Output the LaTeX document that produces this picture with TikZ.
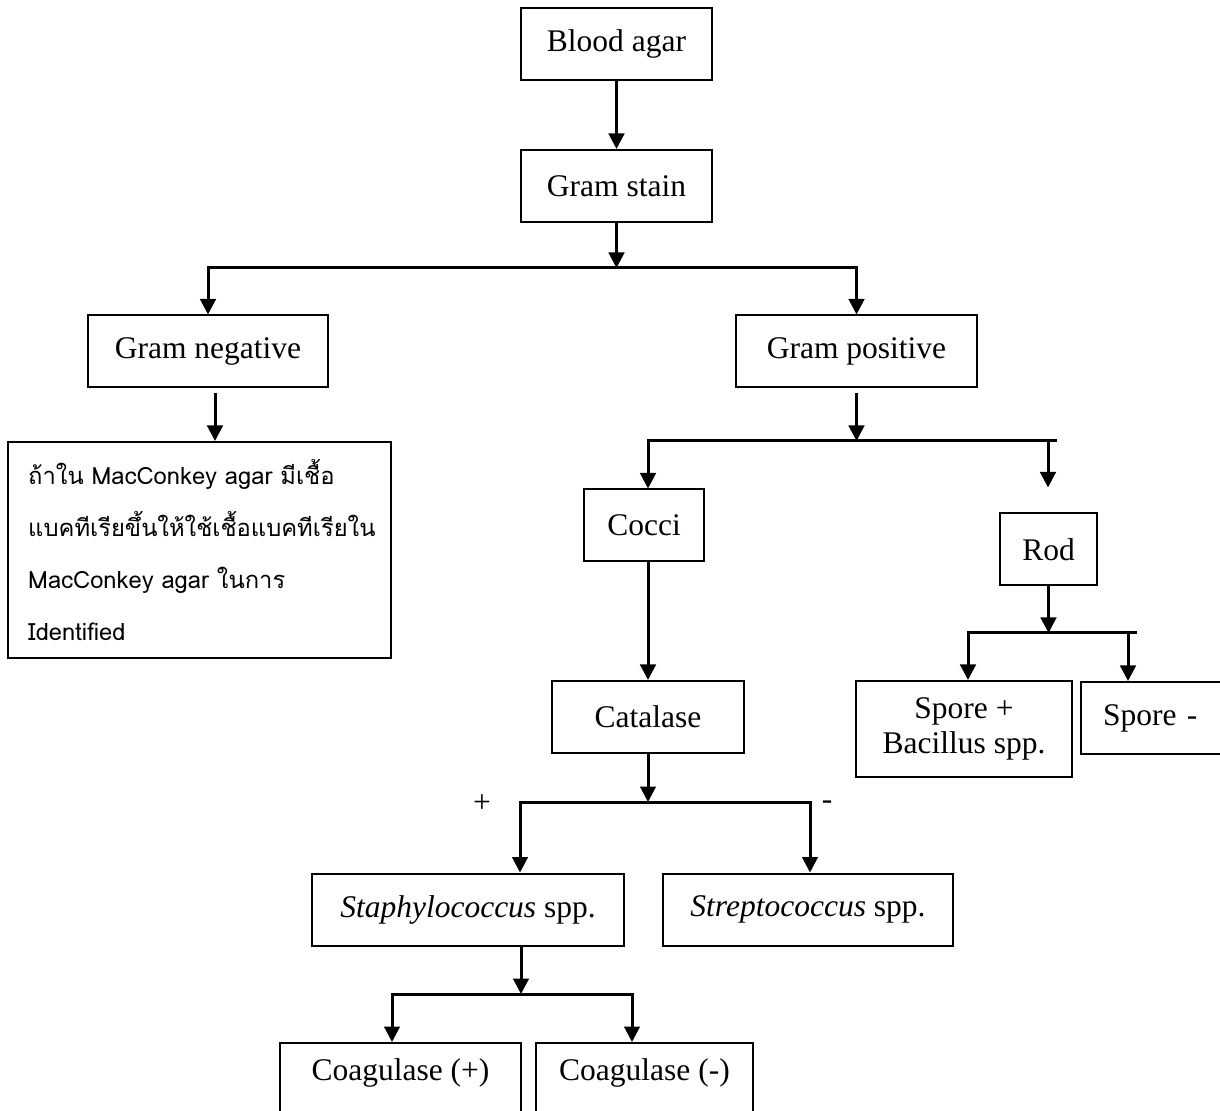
\documentclass[tikz,border=0pt]{standalone}
\usepackage{fontspec}
\setmainfont{Liberation Serif}
\newfontfamily\thaifont[Script=Thai]{Loma}
\usetikzlibrary{arrows.meta}

\begin{document}
\begin{tikzpicture}[x=0.4pt,y=-0.4pt,
  box/.style={draw,line width=0.8pt,minimum height=28.8pt,inner sep=0pt,
    font=\fontsize{12.6}{15}\selectfont},
  arr/.style={line width=1.2pt,-{Triangle[width=6.2pt,length=6.2pt]}},
  lin/.style={line width=1.2pt}]
  \useasboundingbox (0,0) rectangle (1220,1111);
  % boxes
  \node[box, minimum width=76.4pt] (blood) at (616.5,44) {Blood agar};
  \node[box, minimum width=76.4pt] (stain) at (616.5,186) {Gram stain};
  \node[box, minimum width=96pt] (neg) at (208,351.5) {Gram negative};
  \node[box, minimum width=96.4pt] (pos) at (856.5,351.5) {Gram positive};
  \node[draw, line width=0.8pt, text width=137pt, inner xsep=8pt, inner ysep=0pt,
    minimum height=86.4pt, align=left,
    font=\thaifont\fontsize{9.5}{20.8}\selectfont] (macc) at (199.5,550)
    {ถ้าใน MacConkey agar มีเชื้อ\\แบคทีเรียขึ้นให้ใช้เชื้อแบคทีเรียใน\\MacConkey agar ในการ\\Identified};
  \node[box, minimum width=48pt] (cocci) at (644,525.5) {Cocci};
  \node[box, minimum width=38.8pt] (rod) at (1048.5,549.5) {Rod};
  \node[box, minimum width=76.8pt] (cat) at (648,717) {Catalase};
  \node[box, minimum width=124.8pt] (staph) at (468,909.5) {\textit{Staphylococcus} spp.};
  \node[box, minimum width=116pt] (strep) at (808,909.5) {\textit{Streptococcus} spp.};
  \node[box, minimum width=96.4pt, anchor=north, text height=15pt, text depth=30pt]
    (coagp) at (400.5,1042) {Coagulase (+)};
  \node[box, minimum width=86.8pt, anchor=north, text height=15pt, text depth=30pt]
    (coagn) at (644.5,1042) {Coagulase (-)};
  \node[box, minimum width=86.4pt, minimum height=38.4pt, align=center,
    font=\fontsize{12.6}{14}\selectfont] (sporep) at (964,729) {Spore +\\Bacillus spp.};
  \node[box, anchor=north west, text width=70pt, inner xsep=8.8pt, align=left]
    (sporen) at (1080,681) {Spore -};
  % signs
  \node[font=\fontsize{12.6}{15}\selectfont] (plus) at (482,804) {+};
  \node[font=\fontsize{12.6}{15}\selectfont] (minus) at (827,805) {-};
  % junctions
  \coordinate (jstain) at (616.5,268);
  \coordinate (negb) at (215,393);
  \coordinate (cocl) at (648,441);
  \coordinate (rodt) at (1048,441);
  \coordinate (rodr) at (1057,441);
  \coordinate (jcat) at (648,802);
  \coordinate (catl) at (520,802);
  \coordinate (catr) at (810,802);
  \coordinate (jstaph) at (521,994);
  \coordinate (stl) at (392,994);
  \coordinate (str) at (632,994);
  \coordinate (jrod) at (1048,633);
  \coordinate (rl) at (968,633);
  \coordinate (rk) at (1128,633);
  \coordinate (rr) at (1137,633);
  % connectors
  \draw[arr] (blood) -- (stain);
  \draw[arr] (stain) -- (jstain);
  \draw[arr] (jstain) -| (neg);
  \draw[arr] (jstain) -| (pos);
  \draw[arr] (negb) -- (negb |- macc.north);
  \draw[arr, shorten <=2pt] (pos.south) -- (pos.south |- cocl);
  \draw[arr] (rodr) -- (cocl) -- (cocl |- cocci.north);
  \draw[arr, shorten >=10pt] (rodt) -- (rodt |- rod.north);
  \draw[arr] (cocci.south -| cat) -- (cat);
  \draw[arr] (cat) -- (jcat);
  \draw[arr] (catr) -- (catl) -- (catl |- staph.north);
  \draw[arr] (catl) -| (catr |- strep.north);
  \draw[arr] (jstaph |- staph.south) -- (jstaph);
  \draw[arr] (str) -- (stl) -- (stl |- coagp.north);
  \draw[arr] (stl) -| (str |- coagn.north);
  \draw[arr] (rod.south) -- (rod.south |- jrod);
  \draw[arr] (rr) -- (rl) -- (rl |- sporep.north);
  \draw[arr] (rk) -- (rk |- sporen.north);
\end{tikzpicture}
\end{document}
